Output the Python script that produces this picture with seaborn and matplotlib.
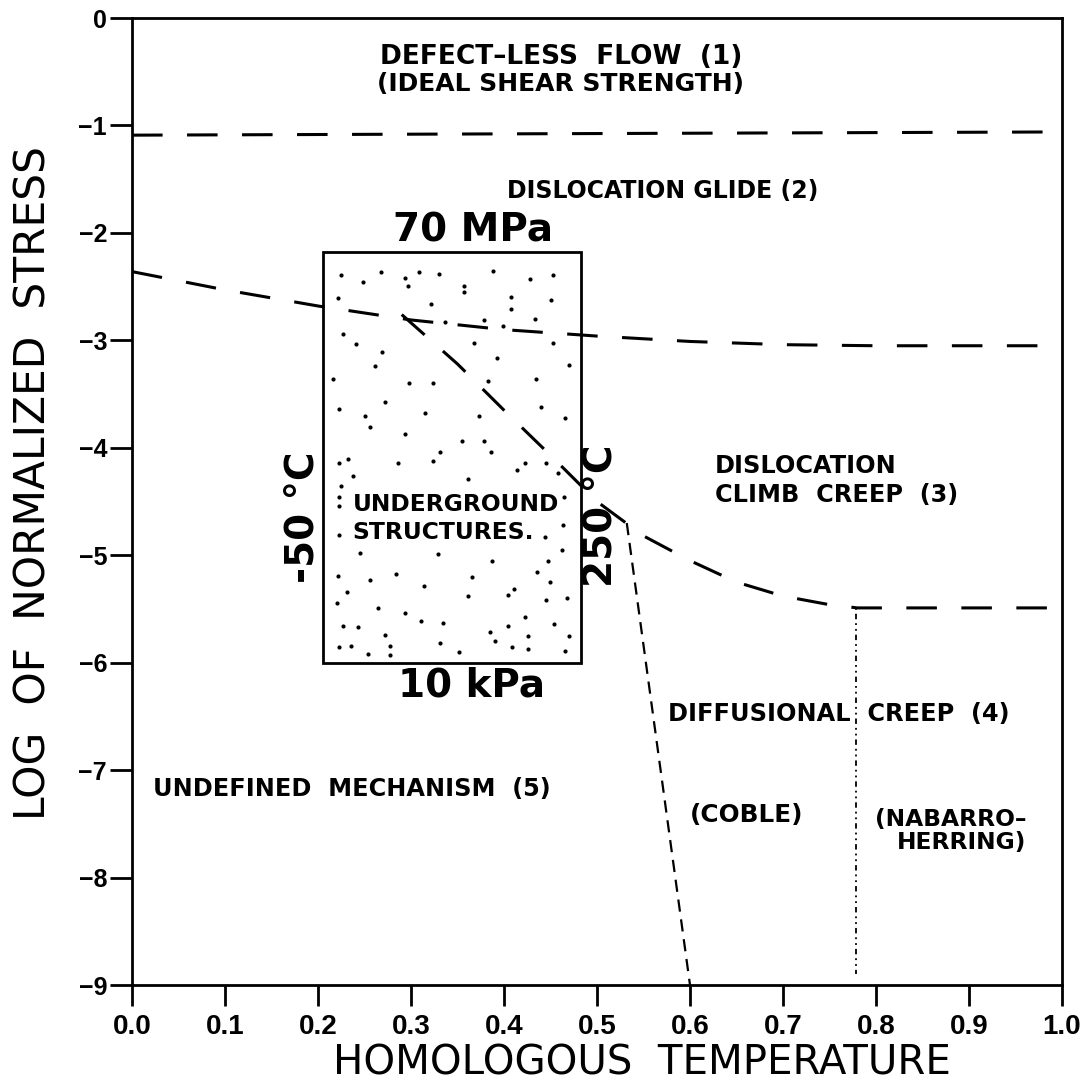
import matplotlib
matplotlib.use("Agg")
import matplotlib.pyplot as plt
import seaborn as sns
from matplotlib import font_manager as fm
from matplotlib.patches import Rectangle

# ---------------- data ----------------
X_TICKS = [0.0, 0.1, 0.2, 0.3, 0.4, 0.5, 0.6, 0.7, 0.8, 0.9, 1.0]
X_TICK_LABELS = ["0.0", "0.1", "0.2", "0.3", "0.4", "0.5", "0.6", "0.7", "0.8", "0.9", "1.0"]
Y_TICKS = [0, -1, -2, -3, -4, -5, -6, -7, -8, -9]
Y_TICK_LABELS = ["0", "\u22121", "\u22122", "\u22123", "\u22124", "\u22125", "\u22126", "\u22127", "\u22128", "\u22129"]

# boundary (1)/(2): defect-less flow / dislocation glide
B1_X = [0.0, 1.0]
B1_Y = [-1.09, -1.06]
# boundary (2)/(3): dislocation glide / climb creep
B2_X = [0.0, 0.1, 0.2, 0.3, 0.4, 0.5, 0.6, 0.7, 0.8, 0.9, 1.0]
B2_Y = [-2.36, -2.53, -2.68, -2.81, -2.90, -2.96, -3.01, -3.04, -3.05, -3.05, -3.05]
# boundary (3)/(4),(5): climb creep lower limit
B3_X = [0.29, 0.35, 0.40, 0.45, 0.50, 0.55, 0.60, 0.65, 0.70, 0.75, 0.78, 1.0]
B3_Y = [-2.76, -3.22, -3.65, -4.07, -4.50, -4.82, -5.05, -5.25, -5.38, -5.46, -5.49, -5.49]
# Coble / undefined mechanism boundary
COBLE_X = [0.532, 0.600]
COBLE_Y = [-4.70, -9.0]
# Coble / Nabarro-Herring boundary
NH_X = [0.778, 0.778]
NH_Y = [-5.49, -8.9]

# underground structures window
BOX_X = [0.205, 0.483]
BOX_Y = [-6.0, -2.18]

# stipple dots inside the window
STIPPLE_X = [0.225, 0.268, 0.293, 0.309, 0.330, 0.388, 0.453, 0.248, 0.297, 0.357,
             0.357, 0.428, 0.408, 0.451, 0.222, 0.322, 0.407, 0.433, 0.337, 0.399,
             0.379, 0.227, 0.241, 0.269, 0.261, 0.368, 0.392, 0.453, 0.470, 0.216,
             0.298, 0.324, 0.383, 0.434, 0.272, 0.223, 0.315, 0.373, 0.440, 0.466,
             0.251, 0.256, 0.294, 0.355, 0.379, 0.386, 0.331, 0.324, 0.286, 0.223,
             0.232, 0.238, 0.361, 0.414, 0.423, 0.445, 0.458, 0.225, 0.223, 0.223,
             0.465, 0.223, 0.245, 0.329, 0.387, 0.444, 0.462, 0.447, 0.463, 0.221,
             0.256, 0.284, 0.314, 0.366, 0.436, 0.449, 0.231, 0.220, 0.264, 0.293,
             0.311, 0.334, 0.361, 0.404, 0.411, 0.445, 0.468, 0.423, 0.454, 0.227,
             0.243, 0.272, 0.385, 0.404, 0.426, 0.470, 0.223, 0.235, 0.277, 0.331,
             0.352, 0.390, 0.409, 0.426, 0.466, 0.254, 0.277]
STIPPLE_Y = [-2.39, -2.36, -2.42, -2.36, -2.38, -2.35, -2.39, -2.46, -2.49, -2.49,
             -2.55, -2.43, -2.60, -2.62, -2.61, -2.66, -2.71, -2.80, -2.83, -2.87,
             -2.81, -2.94, -3.03, -3.11, -3.24, -3.02, -3.16, -3.02, -3.23, -3.36,
             -3.40, -3.40, -3.38, -3.36, -3.57, -3.64, -3.68, -3.70, -3.62, -3.72,
             -3.70, -3.81, -3.87, -3.94, -3.94, -4.04, -4.04, -4.12, -4.14, -4.14,
             -4.10, -4.26, -4.29, -4.21, -4.14, -4.14, -4.23, -4.36, -4.46, -4.54,
             -4.46, -4.81, -4.98, -4.99, -5.05, -4.83, -4.95, -5.05, -4.72, -5.19,
             -5.23, -5.17, -5.29, -5.20, -5.16, -5.25, -5.34, -5.44, -5.49, -5.54,
             -5.61, -5.63, -5.38, -5.37, -5.31, -5.42, -5.40, -5.57, -5.64, -5.66,
             -5.67, -5.74, -5.71, -5.66, -5.75, -5.75, -5.85, -5.84, -5.84, -5.82,
             -5.90, -5.80, -5.85, -5.87, -5.89, -5.92, -5.93]

# ---------------- style ----------------
sns.set_style("white")
avail = {f.name for f in fm.fontManager.ttflist}
HAS_NARROW = "Liberation Sans Narrow" in avail
NARROW = ["Liberation Sans Narrow", "DejaVu Sans"] if HAS_NARROW else ["DejaVu Sans"]
TICKFONT = ["Liberation Sans", "DejaVu Sans"]
HEAVY = ["DejaVu Sans"]
plt.rcParams["font.family"] = TICKFONT
for key in ["text.color", "axes.labelcolor", "xtick.color", "ytick.color", "axes.edgecolor"]:
    plt.rcParams[key] = "black"

k = 1.27 if HAS_NARROW else 1.0
ANN_SIZE = 17.3 * k

fig = plt.figure(figsize=(10.84, 10.87), dpi=100)
ax = fig.add_axes([0.1218, 0.0938, 0.8579, 0.8896])
ax.set_xlim(0, 1.0)
ax.set_ylim(-9, 0)

for s in ax.spines.values():
    s.set_visible(True)
    s.set_linewidth(2.0)
    s.set_color("black")

# ---------------- lines ----------------
long_dash = (0, (10, 8))
sns.lineplot(x=B1_X, y=B1_Y, ax=ax, color="black", lw=2.2, linestyle=long_dash,
             estimator=None, sort=False)
sns.lineplot(x=B2_X, y=B2_Y, ax=ax, color="black", lw=2.2, linestyle=long_dash,
             estimator=None, sort=False)
sns.lineplot(x=B3_X, y=B3_Y, ax=ax, color="black", lw=2.2, linestyle=long_dash,
             estimator=None, sort=False)
sns.lineplot(x=COBLE_X, y=COBLE_Y, ax=ax, color="black", lw=1.6, linestyle=(0, (5.5, 3.5)),
             estimator=None, sort=False)
sns.lineplot(x=NH_X, y=NH_Y, ax=ax, color="black", lw=1.3, linestyle=(0, (1, 2.2, 3, 2.2, 1, 2.2)),
             estimator=None, sort=False)

# window and stipple
ax.add_patch(Rectangle((BOX_X[0], BOX_Y[0]), BOX_X[1] - BOX_X[0], BOX_Y[1] - BOX_Y[0],
                       fill=False, edgecolor="black", lw=2.0, zorder=3))
sns.scatterplot(x=STIPPLE_X, y=STIPPLE_Y, ax=ax, color="black", s=9, linewidth=0, zorder=3)

# ---------------- ticks & labels ----------------
ax.set_xticks(X_TICKS)
ax.set_xticklabels(X_TICK_LABELS)
ax.set_yticks(Y_TICKS)
ax.set_yticklabels(Y_TICK_LABELS)
ax.tick_params(axis="x", direction="out", length=15, width=2.0, pad=6, labelsize=20,
               bottom=True, top=False, colors="black")
ax.tick_params(axis="y", direction="out", length=16, width=2.0, pad=2, labelsize=18,
               left=True, right=False, colors="black")
for lab in ax.get_xticklabels() + ax.get_yticklabels():
    lab.set_fontweight("bold")

ax.set_xlabel("HOMOLOGOUS  TEMPERATURE", fontsize=29 * (1.15 if HAS_NARROW else 1.0),
              family=NARROW, color="black")
ax.set_ylabel("LOG  OF  NORMALIZED  STRESS", fontsize=30.5 * (1.15 if HAS_NARROW else 1.0),
              family=NARROW, color="black")
ax.xaxis.set_label_coords(0.548, -0.060)
ax.yaxis.set_label_coords(-0.083, 0.519)

ann = dict(family=NARROW, fontweight="bold", color="black")
ax.text(0.461, -0.36, "DEFECT\u2013LESS  FLOW  (1)", ha="center", va="center",
        fontsize=19 * k, **ann)
ax.text(0.461, -0.61, "(IDEAL SHEAR STRENGTH)", ha="center", va="center",
        fontsize=18 * k, **ann)
ax.text(0.403, -1.61, "DISLOCATION GLIDE (2)", ha="left", va="center", fontsize=17 * k, **ann)
ax.text(0.627, -4.17, "DISLOCATION", ha="left", va="center", fontsize=ANN_SIZE, **ann)
ax.text(0.627, -4.44, "CLIMB  CREEP  (3)", ha="left", va="center", fontsize=ANN_SIZE, **ann)
ax.text(0.237, -4.53, "UNDERGROUND", ha="left", va="center", fontsize=16.8 * k, **ann)
ax.text(0.237, -4.79, "STRUCTURES.", ha="left", va="center", fontsize=16.8 * k, **ann)
ax.text(0.576, -6.48, "DIFFUSIONAL  CREEP  (4)", ha="left", va="center", fontsize=ANN_SIZE, **ann)
ax.text(0.661, -7.42, "(COBLE)", ha="center", va="center", fontsize=17.8 * k, **ann)
ax.text(0.962, -7.57, "(NABARRO\u2013\nHERRING)", ha="right", va="center",
        multialignment="right", linespacing=1.0, fontsize=16.8 * k, **ann)
ax.text(0.0226, -7.18, "UNDEFINED  MECHANISM  (5)", ha="left", va="center",
        fontsize=ANN_SIZE, **ann)

big = dict(family=HEAVY, fontweight="heavy", fontsize=28, color="black")
ax.text(0.367, -1.98, "70 MPa", ha="center", va="center", **big)
ax.text(0.365, -6.21, "10 kPa", ha="center", va="center", **big)
ax.text(0.183, -4.65, "-50 \u00b0C", ha="center", va="center", rotation=90, **big)
ax.text(0.504, -4.63, "250 \u00b0C", ha="center", va="center", rotation=90, **big)

fig.savefig("out.png", dpi=100)
